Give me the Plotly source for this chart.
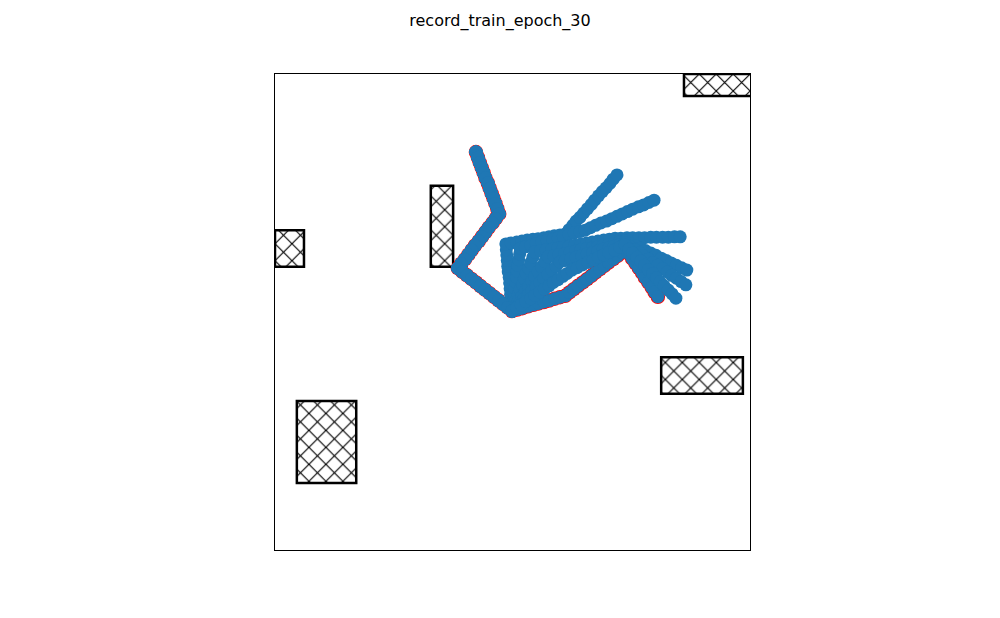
import plotly.graph_objects as go

# ---- data (plot units 0..100) ----
title_text = "record_train_epoch_30"

# obstacles: left x, right x, bottom y, top y
obs_x0 = [86.1, 0.0, 32.8, 4.6, 81.3]
obs_x1 = [101.0, 6.1, 37.5, 17.1, 98.5]
obs_y0 = [95.4, 59.5, 59.5, 14.1, 32.8]
obs_y1 = [100.0, 67.2, 76.5, 31.3, 40.5]

# shared start of every episode
prefix_x = [42.3, 42.7, 43.1, 43.5, 43.9, 44.3, 44.8, 45.2, 45.6, 46.0, 46.4, 46.8, 47.2,
            46.5, 45.8, 45.0, 44.3, 43.6, 42.9, 42.1, 41.4, 40.7, 40.0, 39.2, 38.5,
            39.45, 40.4, 41.35, 42.3, 43.25, 44.2, 45.15, 46.1, 47.05, 48.0, 48.95, 49.9]
prefix_y = [83.6, 82.5, 81.4, 80.35, 79.3, 78.2, 77.1, 76.0, 74.9, 73.9, 72.8, 71.7, 70.6,
            69.65, 68.7, 67.75, 66.8, 65.85, 64.9, 63.95, 63.0, 62.05, 61.1, 60.15, 59.2,
            58.45, 57.7, 56.95, 56.2, 55.45, 54.7, 53.95, 53.2, 52.45, 51.7, 50.95, 50.2]

# reference (red) episode continuation
red_x = [51.0, 52.1, 53.3, 54.4, 55.5, 56.6, 57.7, 58.9, 60.0, 61.1,
         62.0, 62.9, 63.8, 64.8, 65.7, 66.6, 67.5, 68.4, 69.3, 70.2, 71.2, 72.1, 73.0, 73.9,
         74.6, 75.2, 75.9, 76.6, 77.3, 77.9, 78.6, 79.3, 79.9, 80.6]
red_y = [50.5, 50.8, 51.2, 51.5, 51.8, 52.1, 52.4, 52.8, 53.1, 53.4,
         54.1, 54.8, 55.5, 56.2, 56.9, 57.6, 58.3, 59.0, 59.7, 60.4, 61.1, 61.8, 62.5, 63.2,
         62.2, 61.2, 60.2, 59.2, 58.2, 57.2, 56.2, 55.2, 54.2, 53.2]

b1_x = [49.8, 49.7, 49.6, 49.5, 49.4, 49.3, 49.1, 49.0, 48.9, 48.8, 48.7, 48.6,
        49.7, 50.9, 52.0, 53.1, 54.3, 55.4, 56.6, 57.7, 58.8, 60.0, 61.1,
        61.9, 62.7, 63.4, 64.2, 65.0, 65.8, 66.6, 67.3, 68.1, 68.9, 69.7, 70.5, 71.2, 72.0]
b1_y = [51.4, 52.5, 53.7, 54.9, 56.1, 57.3, 58.4, 59.6, 60.8, 62.0, 63.1, 64.3,
        64.5, 64.7, 64.9, 65.1, 65.3, 65.4, 65.6, 65.8, 66.0, 66.2, 66.4,
        67.3, 68.2, 69.1, 69.9, 70.8, 71.7, 72.6, 73.5, 74.4, 75.3, 76.1, 77.0, 77.9, 78.8]

b2_x = [50.1, 50.2, 50.4, 50.5, 50.7, 50.8, 51.0, 51.1, 51.3, 51.5, 51.6,
        52.7, 53.9, 55.0, 56.2, 57.3, 58.5, 59.6, 60.7, 61.9, 63.0, 64.2, 65.3,
        66.4, 67.5, 68.6, 69.8, 70.9, 72.0, 73.1, 74.2, 75.3, 76.5, 77.6, 78.7, 79.8]
b2_y = [51.4, 52.6, 53.8, 55.0, 56.2, 57.4, 58.6, 59.8, 61.0, 62.2, 63.4,
        63.7, 64.0, 64.4, 64.7, 65.0, 65.3, 65.6, 65.9, 66.3, 66.6, 66.9, 67.2,
        67.7, 68.2, 68.7, 69.1, 69.6, 70.1, 70.6, 71.1, 71.6, 72.1, 72.5, 73.0, 73.5]

b3_x = [50.3, 50.8, 51.2, 51.6, 52.1, 52.5, 52.9, 53.4, 53.8, 54.3, 54.7,
        55.9, 57.1, 58.3, 59.5, 60.7, 61.9, 63.1, 64.4, 65.6, 66.8, 68.0, 69.2, 70.4, 71.6,
        72.8, 74.1, 75.3, 76.6, 77.8, 79.1, 80.3, 81.6, 82.8, 84.1, 85.3]
b3_y = [51.3, 52.5, 53.6, 54.7, 55.8, 57.0, 58.1, 59.2, 60.3, 61.5, 62.6,
        62.8, 63.0, 63.2, 63.4, 63.6, 63.8, 64.0, 64.3, 64.5, 64.7, 64.9, 65.1, 65.3, 65.5,
        65.5, 65.6, 65.6, 65.6, 65.6, 65.7, 65.7, 65.7, 65.7, 65.8, 65.8]

b4_x = [50.6, 51.3, 52.0, 52.7, 53.4, 54.0, 54.7, 55.4, 56.1, 56.8, 57.5,
        58.7, 59.8, 61.0, 62.1, 63.3, 64.4, 65.6, 66.8, 67.9, 69.1, 70.2, 71.4, 72.5, 73.7,
        74.8, 75.9, 76.9, 78.0, 79.1, 80.2, 81.3, 82.4, 83.4, 84.5, 85.6, 86.7]
b4_y = [51.2, 52.3, 53.3, 54.3, 55.4, 56.4, 57.5, 58.5, 59.5, 60.6, 61.6,
        61.8, 62.1, 62.3, 62.5, 62.8, 63.0, 63.3, 63.5, 63.7, 64.0, 64.2, 64.4, 64.7, 64.9,
        64.4, 63.9, 63.4, 62.9, 62.4, 61.9, 61.3, 60.8, 60.3, 59.8, 59.3, 58.8]

b5_x = [50.7, 51.6, 52.4, 53.3, 54.1, 55.0, 55.8, 56.6, 57.5, 58.3, 59.2, 60.0,
        61.1, 62.3, 63.4, 64.6, 65.7, 66.9, 68.0, 69.1, 70.3, 71.4, 72.6, 73.7,
        74.7, 75.7, 76.7, 77.6, 78.6, 79.6, 80.6, 81.6, 82.6, 83.5, 84.5, 85.5, 86.5]
b5_y = [51.1, 51.9, 52.8, 53.6, 54.5, 55.3, 56.2, 57.1, 57.9, 58.8, 59.6, 60.5,
        60.8, 61.2, 61.5, 61.8, 62.2, 62.5, 62.8, 63.2, 63.5, 63.8, 64.2, 64.5,
        63.8, 63.1, 62.5, 61.8, 61.1, 60.4, 59.8, 59.1, 58.4, 57.7, 57.1, 56.4, 55.7]

b6_x = [50.9, 51.8, 52.8, 53.8, 54.7, 55.7, 56.7, 57.7, 58.6, 59.6, 60.6, 61.5, 62.5,
        63.6, 64.7, 65.9, 67.0, 68.1, 69.2, 70.3, 71.5, 72.6, 73.7,
        74.5, 75.3, 76.2, 77.0, 77.8, 78.6, 79.5, 80.3, 81.1, 81.9, 82.8, 83.6, 84.4]
b6_y = [50.9, 51.5, 52.2, 52.8, 53.5, 54.2, 54.8, 55.5, 56.2, 56.8, 57.5, 58.1, 58.8,
        59.3, 59.9, 60.4, 60.9, 61.5, 62.0, 62.5, 63.0, 63.6, 64.1,
        63.2, 62.4, 61.5, 60.7, 59.8, 58.9, 58.1, 57.2, 56.3, 55.5, 54.6, 53.8, 52.9]

branches = [(red_x, red_y), (b1_x, b1_y), (b2_x, b2_y), (b3_x, b3_y),
            (b4_x, b4_y), (b5_x, b5_y), (b6_x, b6_y)]

BLUE = "#1f77b4"
RED = "#ff0000"

fig = go.Figure()

# obstacles as hatched bars
fig.add_trace(go.Bar(
    x=[(a + b) / 2 for a, b in zip(obs_x0, obs_x1)],
    width=[b - a for a, b in zip(obs_x0, obs_x1)],
    base=obs_y0,
    y=[t - b for b, t in zip(obs_y0, obs_y1)],
    marker=dict(color="white",
                line=dict(color="black", width=2.5),
                pattern=dict(shape="x", fgcolor="black", bgcolor="white", fgopacity=1,
                             size=12, solidity=0.18, fillmode="replace")),
    showlegend=False, hoverinfo="skip",
))

# reference episode in red (drawn below)
fig.add_trace(go.Scatter(
    x=prefix_x + red_x, y=prefix_y + red_y, mode="lines+markers",
    line=dict(color=RED, width=1.5),
    marker=dict(color=RED, size=14.5),
    showlegend=False, hoverinfo="skip", cliponaxis=False,
))

for bx, by in branches:
    fig.add_trace(go.Scatter(
        x=prefix_x + bx, y=prefix_y + by, mode="markers",
        marker=dict(color=BLUE, size=13, line=dict(width=0)),
        showlegend=False, hoverinfo="skip", cliponaxis=False,
    ))

fig.update_layout(
    width=1000, height=618,
    margin=dict(l=275, r=250, t=74, b=68),
    paper_bgcolor="white", plot_bgcolor="white",
    barmode="overlay",
    title=dict(text=title_text, x=0.5, xanchor="center",
               y=1 - 20 / 618, yref="container", yanchor="middle",
               font=dict(family="DejaVu Sans", size=16, color="black")),
    xaxis=dict(range=[0, 100], showgrid=False, zeroline=False, showticklabels=False,
               ticks="", showline=True, linecolor="black", linewidth=1, mirror=True),
    yaxis=dict(range=[0, 100], showgrid=False, zeroline=False, showticklabels=False,
               ticks="", showline=True, linecolor="black", linewidth=1, mirror=True),
)

fig.write_html("out.html")
